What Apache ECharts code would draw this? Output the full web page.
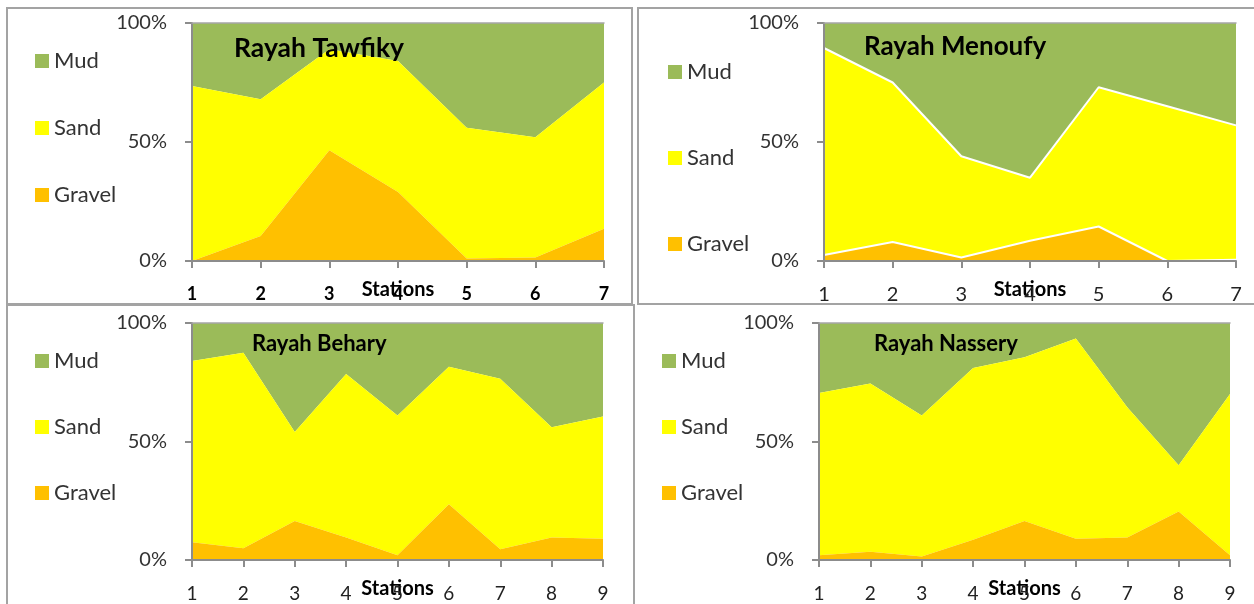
<!DOCTYPE html>
<html>
<head>
<meta charset="utf-8">
<script src="https://cdn.jsdelivr.net/npm/echarts@6/dist/echarts.min.js"></script>
<style>
html,body{margin:0;padding:0;background:#fff;}
#c{width:1254px;height:604px;}
</style>
</head>
<body>
<div id="c"></div>
<script>
// ---- data (percent of each fraction per station) ----
const stations7 = ['1','2','3','4','5','6','7'];
const stations9 = ['1','2','3','4','5','6','7','8','9'];
const yTicks = [0, 50, 100];

const tawfikyGravel = [0, 10.5, 46.5, 29, 1, 1.5, 13.5];
const tawfikySand   = [73.5, 57.5, 42.5, 55, 55, 50.5, 61.5];
const tawfikyMud    = [26.5, 32, 11, 16, 44, 48, 25];

const menoufyGravel = [2.5, 8, 1.5, 8.5, 14.5, 0, 0.5];
const menoufySand   = [87, 67, 42.5, 26.5, 58.5, 65, 56.5];
const menoufyMud    = [10.5, 25, 56, 65, 27, 35, 43];

const beharyGravel = [7.5, 5, 16.5, 9.5, 2, 23.5, 4.5, 9.5, 9];
const beharySand   = [76.5, 82.5, 37.5, 69, 59, 58, 72, 46.5, 51.5];
const beharyMud    = [16, 12.5, 46, 21.5, 39, 18.5, 23.5, 44, 39.5];

const nasseryGravel = [2, 3.5, 1.5, 8.5, 16.5, 9, 9.5, 20.5, 2];
const nasserySand   = [68.5, 71, 59.5, 72.5, 69, 84.5, 55, 19.5, 68];
const nasseryMud    = [29.5, 25.5, 39, 19, 14.5, 6.5, 35.5, 60, 30];

const titles = ['Rayah Tawfiky', 'Rayah Menoufy', 'Rayah Behary', 'Rayah Nassery'];
const legendNames = ['Mud', 'Sand', 'Gravel'];

// ---- styling ----
const FONT = 'Lato, "Liberation Sans", Arial, sans-serif';
const COLORS = { Mud: '#9BBB59', Sand: '#FFFF00', Gravel: '#FFC000' };
const AXIS_GRAY = '#8c8c8c';

const panels = [
  { cats: stations7, g: tawfikyGravel, s: tawfikySand, m: tawfikyMud,
    grid: { left: 192, right: 650, top: 23, bottom: 343 },
    title: { left: 234, top: 35, size: 26.5 },
    legend: { left: 35, top: 50, gap: 45 },
    xl: { bold: true, size: 18 }, white: false },
  { cats: stations7, g: menoufyGravel, s: menoufySand, m: menoufyMud,
    grid: { left: 824, right: 18, top: 23, bottom: 343 },
    title: { left: 864, top: 34, size: 26 },
    legend: { left: 668, top: 61, gap: 64 },
    xl: { bold: false, size: 20 }, white: true },
  { cats: stations9, g: beharyGravel, s: beharySand, m: beharyMud,
    grid: { left: 192, right: 651, top: 323, bottom: 44 },
    title: { left: 252, top: 333, size: 22 },
    legend: { left: 35, top: 350, gap: 44 },
    xl: { bold: false, size: 19 }, white: false },
  { cats: stations9, g: nasseryGravel, s: nasserySand, m: nasseryMud,
    grid: { left: 819, right: 24, top: 323, bottom: 44 },
    title: { left: 874, top: 333, size: 22 },
    legend: { left: 662, top: 350, gap: 44 },
    xl: { bold: false, size: 19 }, white: false }
];

const option = {
  animation: false,
  backgroundColor: '#fff',
  textStyle: { fontFamily: FONT },
  grid: [], xAxis: [], yAxis: [], series: [], title: [], legend: [],
  graphic: [
    { type: 'rect', shape: { x: 7, y: 8, width: 625, height: 296 }, style: { fill: 'none', stroke: '#a3a3a3', lineWidth: 2 }, z: 100 },
    { type: 'rect', shape: { x: 638, y: 8, width: 630, height: 296 }, style: { fill: 'none', stroke: '#a3a3a3', lineWidth: 2 }, z: 100 },
    { type: 'rect', shape: { x: 7, y: 305, width: 627, height: 320 }, style: { fill: 'none', stroke: '#a3a3a3', lineWidth: 2 }, z: 100 }
  ]
};

panels.forEach((p, i) => {
  option.grid.push(Object.assign({ containLabel: false, outerBoundsMode: 'none' }, p.grid));
  option.xAxis.push({
    type: 'category', gridIndex: i, data: p.cats, boundaryGap: false, z: 5,
    name: 'Stations', nameLocation: 'middle', nameGap: 19, nameMoveOverlap: false,
    nameTextStyle: { fontFamily: FONT, fontWeight: 'bold', fontSize: 20, color: '#000' },
    axisLine: { show: true, lineStyle: { color: AXIS_GRAY, width: 2 } },
    axisTick: { show: true, length: 7, lineStyle: { color: AXIS_GRAY, width: 2 } },
    axisLabel: { margin: 24, fontFamily: FONT, fontSize: p.xl.size,
      fontWeight: p.xl.bold ? 'bold' : 'normal', color: p.xl.bold ? '#000' : '#222' },
    splitLine: { show: false }
  });
  option.yAxis.push({
    type: 'value', gridIndex: i, min: yTicks[0], max: yTicks[yTicks.length - 1], interval: yTicks[1] - yTicks[0], z: 5,
    axisLine: { show: true, lineStyle: { color: AXIS_GRAY, width: 2 } },
    axisTick: { show: true, length: 7, lineStyle: { color: AXIS_GRAY, width: 2 } },
    axisLabel: { margin: 25, fontFamily: FONT, fontSize: 20, color: '#333', formatter: '{value}%' },
    splitLine: { show: false }
  });
  option.title.push({
    text: titles[i], left: p.title.left, top: p.title.top, padding: 0,
    textStyle: { fontFamily: FONT, fontWeight: 'bold', fontSize: p.title.size, color: '#000' }
  });
  option.legend.push({
    orient: 'vertical', left: p.legend.left, top: p.legend.top, padding: 0,
    itemGap: p.legend.gap, itemWidth: 14, itemHeight: 14, icon: 'rect',
    data: legendNames, selectedMode: false,
    itemStyle: { borderWidth: 0 }, lineStyle: { width: 0 },
    textStyle: { fontFamily: FONT, fontSize: 22, lineHeight: 22, color: '#333' }
  });
  const defs = [
    { name: 'Gravel', data: p.g, z: 4, line: p.white },
    { name: 'Sand', data: p.s, z: 3, line: p.white },
    { name: 'Mud', data: p.m, z: 2, line: false }
  ];
  defs.forEach(d => {
    option.series.push({
      name: d.name, type: 'line', xAxisIndex: i, yAxisIndex: i, stack: 'panel' + i,
      data: d.data, symbol: 'none', showSymbol: false, z: d.z,
      color: COLORS[d.name],
      itemStyle: { color: COLORS[d.name] },
      lineStyle: d.line ? { color: '#fff', width: 2 } : { width: 0, opacity: 0 },
      areaStyle: { color: COLORS[d.name], opacity: 1 }
    });
  });
});

// top border lines of the plot areas (extra top axes, no labels)
panels.forEach((p, i) => {
  option.xAxis.push({
    type: 'category', gridIndex: i, data: p.cats, boundaryGap: false, position: 'top', z: 6,
    axisLine: { show: true, lineStyle: { color: '#a6a6a6', width: 1.5 } },
    axisTick: { show: false }, axisLabel: { show: false }, splitLine: { show: false }
  });
});

const chart = echarts.init(document.getElementById('c'), null, { renderer: 'canvas' });
chart.setOption(option);
</script>
</body>
</html>
